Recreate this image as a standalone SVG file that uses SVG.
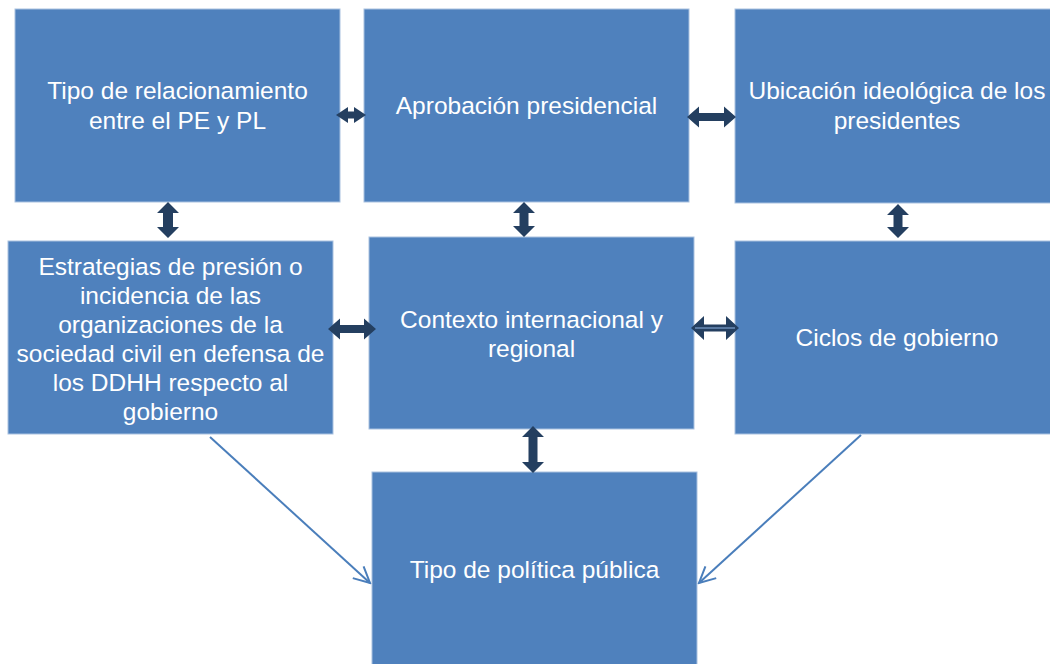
<svg xmlns="http://www.w3.org/2000/svg" width="1050" height="664" viewBox="0 0 1050 664">
  <defs>
    <style>
      .box { fill: #4F81BD; stroke: #A9C1E0; stroke-width: 1; }
      .lbl { font-family: "Liberation Sans", Arial, sans-serif; font-size: 24.5px; fill: #FFFFFF; text-anchor: middle; }
      .dbl { fill: #243F60; }
      .inner { stroke: #8EB4E3; stroke-width: 1; fill: none; }
      .conn { stroke: #4A7EBB; stroke-width: 2; fill: none; }
    </style>
    <marker id="open" viewBox="0 0 20 20" refX="18" refY="10" markerWidth="20" markerHeight="20" markerUnits="userSpaceOnUse" orient="auto">
      <path d="M2,2 L18,10 L2,18" fill="none" stroke="#4A7EBB" stroke-width="2"/>
    </marker>
  </defs>
  <rect width="1050" height="664" fill="#FFFFFF"/>

  <g id="n1">
    <rect class="box" x="15" y="9" width="325" height="193"/>
    <text class="lbl" x="177.5" y="99">Tipo de relacionamiento</text>
    <text class="lbl" x="177.5" y="129">entre el PE y PL</text>
  </g>
  <g id="n2">
    <rect class="box" x="364" y="9" width="325" height="193"/>
    <text class="lbl" x="526.5" y="114">Aprobación presidencial</text>
  </g>
  <g id="n3">
    <rect class="box" x="735" y="9" width="325" height="194"/>
    <text class="lbl" x="897" y="99">Ubicación ideológica de los</text>
    <text class="lbl" x="897" y="129">presidentes</text>
  </g>
  <g id="n4">
    <rect class="box" x="8" y="241" width="325" height="193"/>
    <text class="lbl" x="170.5" y="275">Estrategias de presión o</text>
    <text class="lbl" x="170.5" y="304">incidencia de las</text>
    <text class="lbl" x="170.5" y="333">organizaciones de la</text>
    <text class="lbl" x="170.5" y="362">sociedad civil en defensa de</text>
    <text class="lbl" x="170.5" y="391">los DDHH respecto al</text>
    <text class="lbl" x="170.5" y="420">gobierno</text>
  </g>
  <g id="n5">
    <rect class="box" x="369" y="237" width="325" height="192"/>
    <text class="lbl" x="531.5" y="328">Contexto internacional y</text>
    <text class="lbl" x="531.5" y="357">regional</text>
  </g>
  <g id="n6">
    <rect class="box" x="735" y="241" width="325" height="193"/>
    <text class="lbl" x="897" y="346">Ciclos de gobierno</text>
  </g>
  <g id="n7">
    <rect class="box" x="372" y="472" width="325" height="193"/>
    <text class="lbl" x="534.5" y="578">Tipo de política pública</text>
  </g>

  <g id="connectors">
    <!-- n1 <-> n2 -->
    <path class="dbl" d="M336,115 L348,107 L348,111.5 L354,111.5 L354,107 L366,115 L354,123 L354,118.5 L348,118.5 L348,123 Z"/>
    <!-- n2 <-> n3 -->
    <path class="dbl" d="M687,117 L699,106.5 L699,113 L724,113 L724,106.5 L736,117 L724,127.5 L724,121 L699,121 L699,127.5 Z"/>
    <!-- n4 <-> n5 -->
    <path class="dbl" d="M328,329 L340,318.5 L340,325 L364,325 L364,318.5 L376,329 L364,339.5 L364,333 L340,333 L340,339.5 Z"/>
    <!-- n5 <-> n6 -->
    <path class="dbl" d="M691,328 L704,316 L704,324.5 L726,324.5 L726,316 L739,328 L726,340 L726,331.5 L704,331.5 L704,340 Z"/>
    <line class="inner" x1="695" y1="328" x2="735" y2="328"/>
    <!-- n1 <-> n4 -->
    <path class="dbl" d="M168,202 L179,213 L173,213 L173,227 L179,227 L168,238 L157,227 L163,227 L163,213 L157,213 Z"/>
    <!-- n2 <-> n5 -->
    <path class="dbl" d="M524,202 L535,213 L528.5,213 L528.5,226 L535,226 L524,237 L513,226 L519.5,226 L519.5,213 L513,213 Z"/>
    <!-- n3 <-> n6 -->
    <path class="dbl" d="M898,204 L909,215 L902.5,215 L902.5,227 L909,227 L898,238 L887,227 L893.5,227 L893.5,215 L887,215 Z"/>
    <!-- n5 <-> n7 -->
    <path class="dbl" d="M533,426 L544,437 L537.5,437 L537.5,462 L544,462 L533,473 L522,462 L528.5,462 L528.5,437 L522,437 Z"/>
    <!-- n4 -> n7 -->
    <line class="conn" x1="210" y1="437" x2="370" y2="583" marker-end="url(#open)"/>
    <!-- n6 -> n7 -->
    <line class="conn" x1="861" y1="435" x2="699" y2="583" marker-end="url(#open)"/>
  </g>
</svg>
